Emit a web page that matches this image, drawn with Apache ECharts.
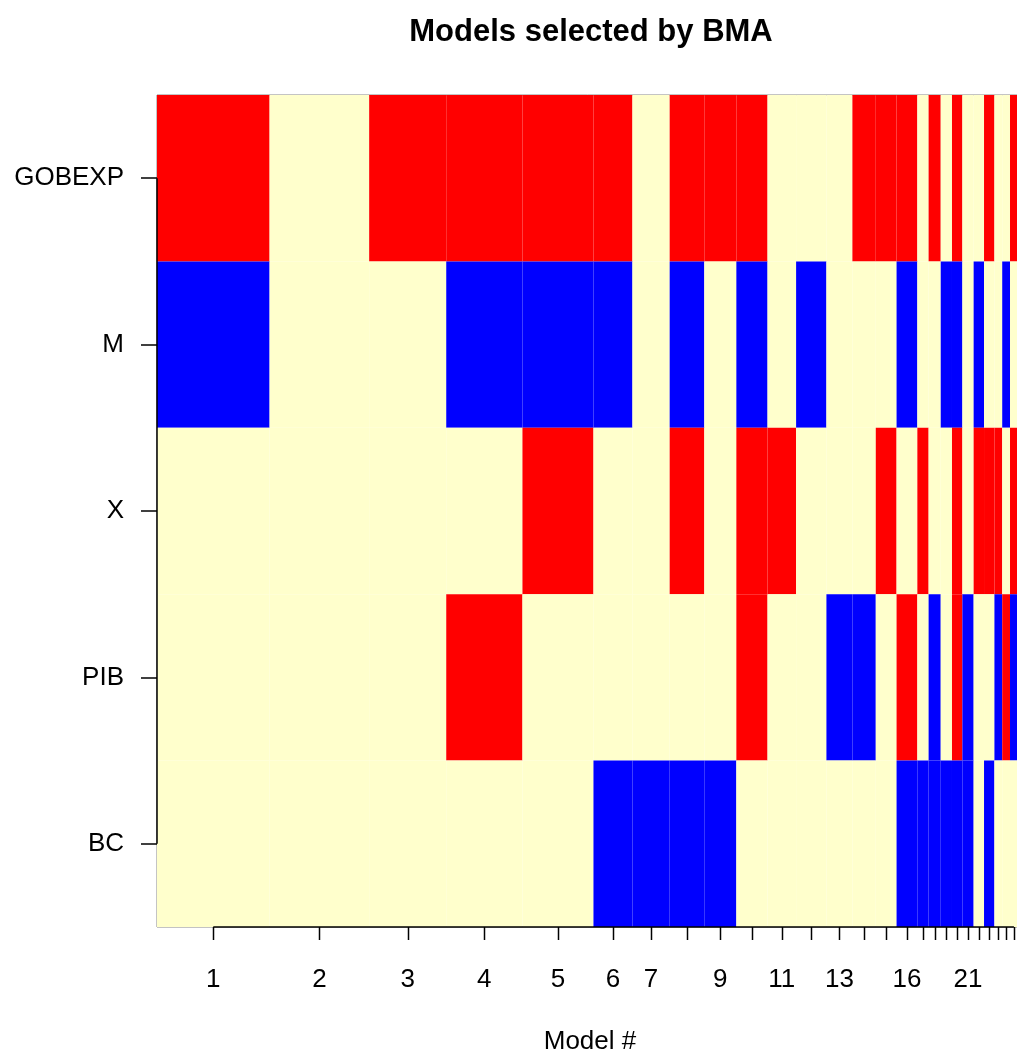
<!DOCTYPE html>
<html>
<head>
<meta charset="utf-8">
<script src="https://cdn.jsdelivr.net/npm/echarts@6/dist/echarts.min.js"></script>
<style>
  html, body { margin: 0; padding: 0; background: #fff; }
  #chart { width: 1017px; height: 1056px; }
</style>
</head>
<body>
<div id="chart"></div>
<script>
// posterior probability of each model (column widths)
const postProb = [0.130, 0.115, 0.089, 0.088, 0.082, 0.045, 0.043, 0.040, 0.037, 0.036,
                  0.033, 0.035, 0.030, 0.027, 0.024, 0.024, 0.013, 0.014, 0.013, 0.012,
                  0.013, 0.012, 0.012, 0.009, 0.009, 0.009];
const varNames = ["GOBEXP", "M", "X", "PIB", "BC"];
// 1 = positive coef, -1 = negative coef, 0 = not in model
const GOBEXP = [1, 0, 1, 1, 1, 1, 0, 1, 1, 1, 0, 0, 0, 1, 1, 1, 0, 1, 0, 1, 0, 0, 1, 0, 0, 1];
const M      = [-1, 0, 0, -1, -1, -1, 0, -1, 0, -1, 0, -1, 0, 0, 0, -1, 0, 0, -1, -1, 0, -1, 0, 0, -1, 0];
const X      = [0, 0, 0, 0, 1, 0, 0, 1, 0, 1, 1, 0, 0, 0, 1, 0, 1, 0, 0, 1, 0, 1, 1, 1, 0, 1];
const PIB    = [0, 0, 0, 1, 0, 0, 0, 0, 0, 1, 0, 0, -1, -1, 0, 1, 0, -1, 0, 1, -1, 0, 0, -1, 1, -1];
const BC     = [0, 0, 0, 0, 0, -1, -1, -1, -1, 0, 0, 0, 0, 0, 0, -1, -1, -1, -1, -1, -1, 0, -1, 0, 0, 0];
const tickLabels = [1, 2, 3, 4, 5, 6, 7, 9, 11, 13, 16, 21];

const rows = [GOBEXP, M, X, PIB, BC];
const colors = { "1": "#FF0000", "-1": "#0000FF", "0": "#FFFFCC" };
const font = "'Liberation Sans', Arial, Helvetica, sans-serif";

// cumulative column edges
let starts = [], mids = [];
let acc = 0;
postProb.forEach(p => {
  starts.push(acc);
  mids.push(acc + p / 2);
  acc += p;
});

let cells = [];
rows.forEach((r, i) => {
  r.forEach((v, j) => {
    cells.push([starts[j], starts[j] + postProb[j], i, v]);
  });
});

const labelMids = tickLabels.map(k => mids[k - 1]);
const rowMids = varNames.map((n, i) => i + 0.5);

function modelOf(v) {
  for (let j = 0; j < mids.length; j++) {
    if (Math.abs(mids[j] - v) < 1e-9) return j + 1;
  }
  return "";
}

var myChart = echarts.init(document.getElementById("chart"));
let option = {
  animation: false,
  backgroundColor: "#ffffff",
  title: {
    text: "Models selected by BMA",
    left: 586,
    top: 12,
    textAlign: "center",
    textStyle: { fontFamily: font, fontSize: 31, fontWeight: "bold", color: "#000" }
  },
  grid: {
    left: 157,
    top: 95,
    width: 866,
    height: 832,
    outerBoundsMode: "none",
    containLabel: false,
    show: true,
    borderColor: "#888",
    borderWidth: 1,
    backgroundColor: "transparent"
  },
  xAxis: {
    type: "value",
    min: 0,
    max: 1,
    name: "Model #",
    nameLocation: "middle",
    nameGap: 102,
    nameMoveOverlap: false,
    nameTextStyle: { fontFamily: font, fontSize: 26, color: "#000" },
    axisLine: { show: false },
    splitLine: { show: false },
    axisTick: { show: false },
    axisLabel: {
      customValues: labelMids,
      formatter: v => String(modelOf(v)),
      margin: 40,
      fontFamily: font,
      fontSize: 26,
      color: "#000"
    }
  },
  yAxis: {
    type: "value",
    min: 0,
    max: 5,
    inverse: true,
    axisLine: { show: false },
    splitLine: { show: false },
    axisTick: {
      show: true,
      customValues: rowMids,
      length: 16,
      lineStyle: { color: "#000", width: 1.5 }
    },
    axisLabel: {
      customValues: rowMids,
      formatter: v => varNames[Math.floor(v)],
      margin: 33,
      fontFamily: font,
      fontSize: 26,
      color: "#000"
    }
  },
  series: [
    {
      type: "custom",
      data: cells,
      renderItem: function (params, api) {
        let p0 = api.coord([api.value(0), api.value(2)]);
        let p1 = api.coord([api.value(1), api.value(2) + 1]);
        return {
          type: "rect",
          shape: { x: p0[0], y: p0[1], width: p1[0] - p0[0], height: p1[1] - p0[1] },
          style: { fill: colors[String(api.value(3))], stroke: null }
        };
      },
      encode: { x: [0, 1], y: 2 },
      z: 1
    },
    {
      // x axis ticks, one per model at column centre
      type: "custom",
      data: mids.map(m => [m, 5]),
      clip: false,
      renderItem: function (params, api) {
        let p = api.coord([api.value(0), api.value(1)]);
        let x = Math.round(p[0]) + 0.5;
        return {
          type: "line",
          shape: { x1: x, y1: p[1], x2: x, y2: p[1] + 13 },
          style: { stroke: "#000", lineWidth: 1.5 }
        };
      },
      encode: { x: 0, y: 1 },
      z: 5
    },
    {
      // left axis line, from first to last tick
      type: "line",
      data: [[0, rowMids[0]], [0, rowMids[rowMids.length - 1]]],
      symbol: "none",
      clip: false,
      lineStyle: { color: "#000", width: 1.5 },
      z: 5
    },
    {
      // bottom axis line, from first to last tick
      type: "line",
      data: [[mids[0], 5], [mids[mids.length - 1], 5]],
      symbol: "none",
      clip: false,
      lineStyle: { color: "#000", width: 1.5 },
      z: 5
    }
  ]
};
myChart.setOption(option);
</script>
</body>
</html>
